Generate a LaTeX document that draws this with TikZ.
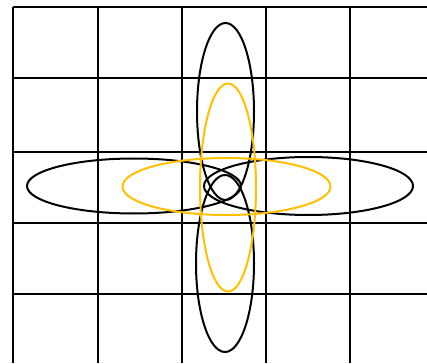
\documentclass[tikz,border=0pt]{standalone}
\definecolor{petalyellow}{RGB}{255,192,0}
\tikzset{
  gridline/.style={black, line width=2pt},
  blackpetal/.style={black, line width=2pt},
  yellowpetal/.style={petalyellow, line width=2pt}
}
\begin{document}
\begin{tikzpicture}[x=1pt,y=-1pt]
\useasboundingbox (0,0) rectangle (427,363);
% grid
\foreach \gx in {13,98,182,266,350} \draw[gridline] (\gx,7) -- (\gx,363);
\foreach \gy in {7,78,152,223,294} \draw[gridline] (13,\gy) -- (427,\gy);
% black ellipses
\draw[blackpetal] (134,186) ellipse [x radius=107, y radius=27.5];
\draw[blackpetal] (308.5,186) ellipse [x radius=104.5, y radius=29];
\draw[blackpetal] (225.5,111.5) ellipse [x radius=28.5, y radius=88.5];
\draw[blackpetal] (225,263.5) ellipse [x radius=29, y radius=88.5];
% yellow ellipses
\draw[yellowpetal] (226.5,186.5) ellipse [x radius=104, y radius=28.5];
\draw[yellowpetal] (228,187.5) ellipse [x radius=28, y radius=104];
\end{tikzpicture}
\end{document}
